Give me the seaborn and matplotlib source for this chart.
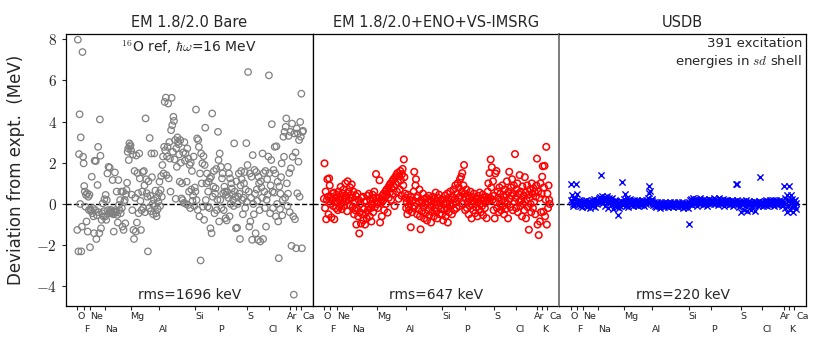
import numpy as np
import matplotlib
matplotlib.use("Agg")
import matplotlib.pyplot as plt
import matplotlib.transforms as mtransforms
import seaborn as sns
from matplotlib.ticker import FuncFormatter

# element groups along the x axis (number of levels per element)
elements = ["O", "F", "Ne", "Na", "Mg", "Al", "Si", "P", "S", "Cl", "Ar", "K", "Ca"]
n_levels = [11, 11, 26, 44, 49, 63, 39, 51, 37, 37, 9, 9, 5]

bare = [
    -1.26, 7.97, -2.3, 2.42, 4.35, 0.0, 3.23, -2.3, -1.1, 7.37, 2.29,  # O
    1.97, 0.87, 0.6, -0.13, 0.44, -0.85, 0.52, -1.34, 0.35, -0.29, 0.45,  # F
    -2.1, -0.26, -0.34, 1.32, -0.45, -0.2, -0.6, -1.42, 2.1, -0.3, 2.08, -1.7, -0.55,
    0.92, 2.77, -0.4, -1.42, 4.1, 2.34, -1.18, -0.77, -0.45, 0.03, -0.6, -0.35, 0.23,  # Ne
    -0.61, 0.44, -0.77, 0.19, 1.48, -0.3, 1.8, -0.45, 1.76, -0.35, -0.29, -0.4, -0.45,
    1.16, -0.5, -1.34, -0.37, 1.53, -0.3, -0.42, 0.6, -0.53, -0.9, 1.16, -0.05, -0.3,
    0.19, -0.45, 0.6, -0.2, -1.1, 0.6, -1.26, 0.1, 0.19, -0.94, 0.47, 0.68, 1.03,
    2.53, 2.69, 2.13, 2.94, 2.77,  # Na
    2.85, 2.6, 0.45, -0.3, 2.4, -1.26, -1.7, 1.6, 0.3, -1.34, 2.35, -0.9, 1.5, 0.52,
    -0.45, 2.45, 1.24, 0.15, -1.26, -0.3, 0.6, 1.55, -0.2, 1.6, 0.9, -0.4, 4.15, 1.2,
    0.52, 0.35, -2.3, 1.1, -0.2, 3.2, 0.4, -0.35, 2.45, 1.3, 0.0, -0.5, 0.2, 2.45,
    -0.1, 0.65, -0.45, -0.6, 0.3, -0.25, 0.1,  # Mg
    0.52, 1.08, -0.1, 0.68, 1.35, 0.35, 1.89, 2.3, 1.48, 2.77, 4.95, 2.6, 5.16, 1.4,
    2.3, 2.77, 4.87, 1.24, 3.0, 2.2, 0.6, 3.58, 5.15, 3.82, 2.53, 4.23, 4.03, 2.16,
    3.1, 0.25, 2.7, 1.8, 3.23, 3.02, 2.9, 2.4, 1.08, 3.1, 2.0, 0.27, 1.0, 0.19, 2.5,
    0.05, 3.0, 2.1, 2.45, 0.0, 1.08, 2.69, -0.05, 2.2, 0.6, 1.9, -0.2, 2.0, 0.7, 1.6,
    0.15, 0.4, 2.3, -0.1, 0.8,  # Al
    0.6, 4.58, 0.19, 3.18, -0.29, 3.1, 2.77, -0.6, 1.48, -2.74, 2.45, 1.0, 1.97,
    -0.13, 2.32, -0.77, 1.89, 3.7, 0.19, 1.0, 1.48, -0.13, 0.6, 1.08, -0.2, 1.24,
    -1.18, 1.32, -1.42, 4.39, 0.35, 0.84, 1.6, -0.45, 0.5, 0.76, 1.7, -0.3, 0.2,  # Si
    3.5, 2.13, -0.85, 2.45, 0.2, 1.8, -0.2, 1.24, 1.48, 0.52, -0.3, 0.84, 0.6, -0.69,
    0.44, -0.8, 0.6, 1.8, 0.3, 1.48, -0.6, 1.24, 0.0, 1.0, 0.75, 0.45, 0.2, -0.1,
    2.94, 0.6, 0.35, -1.18, 1.1, -1.15, 0.0, 0.35, 1.48, 0.5, -1.7, 0.9, 1.6, 1.2,
    0.2, -0.5, 0.3, 1.0, 1.55, -0.2, 0.7, 2.95, 0.1,  # P
    1.89, 6.4, 0.6, -1.1, 1.48, -0.85, 0.3, 1.32, -1.74, 2.37, 0.0, -0.5, 1.65, 0.5,
    -1.42, 1.55, 0.7, 0.15, -1.74, 1.32, 1.0, -0.3, -1.82, 1.1, 0.8, 0.3, 2.45, -1.7,
    1.5, 0.6, -0.2, 1.6, -1.1, 0.2, 1.2, 0.45, 2.3,  # S
    6.24, 1.5, -0.45, 0.9, 2.13, 3.87, 0.6, -0.2, 1.65, 0.55, 2.77, 1.48, -0.6, 2.8,
    0.0, 1.08, -0.85, -2.63, 0.85, -0.25, 0.5, 1.3, 1.97, -0.55, 0.2, 3.26, 2.29, 3.5,
    0.3, 3.74, 4.15, 1.0, -0.1, 0.5, 3.3, 1.5, -0.4,  # Cl
    3.5, 1.73, -2.03, 3.9, 2.29, -0.6, -4.4, 3.42, -0.74,  # Ar
    2.5, -2.15, 3.66, 0.52, 3.42, 2.05, 3.1, 0.35, 3.98,  # K
    3.26, 5.35, -2.15, 3.5, 3.55,  # Ca
]

imsrg = [
    0.25, 1.97, -0.2, 0.6, -0.74, 0.2, 1.2, 0.35, -0.5, 1.24, 0.9,  # O
    0.0, 0.35, -0.65, 0.2, 0.5, -0.1, 0.55, -0.74, 0.1, 0.3, -0.2,  # F
    0.45, 0.1, -0.3, 0.6, 0.2, -0.15, 0.35, 0.83, 0.0, -0.25, 0.5, 0.25, 0.7, -0.1,
    0.3, 1.0, 0.4, 0.15, -0.35, 1.1, 0.6, 0.2, -0.05, 0.8, 0.3, 0.45,  # Ne
    0.95, 0.3, -0.13, 0.6, -0.5, 0.1, -0.3, 0.4, -1.0, -0.2, 0.5, -0.6, 0.2, -1.43,
    -0.4, 0.0, -0.95, 0.3, -0.5, 0.35, -0.8, -0.25, 0.1, -1.0, -0.45, 0.15, -0.7, 0.4,
    -0.3, -0.1, 0.5, -0.6, 0.2, -0.2, -0.85, 0.0, 0.45, -0.4, 0.25, 0.6, -0.15, 0.3,
    1.45, 0.1,  # Na
    0.0, -0.2, 0.1, 0.3, 1.15, -0.9, 0.05, 0.2, -0.6, 0.4, 0.15, 0.5, -0.3, 0.35, 0.6,
    0.0, 0.7, 0.45, -0.42, 0.8, 0.3, 0.9, 0.55, 1.0, 0.2, 0.75, 1.1, 0.5, 1.2, 0.85,
    -0.1, 1.3, 0.95, 1.4, 0.6, 1.5, 1.05, 0.25, 1.35, 0.7, 1.6, 1.15, 0.4, 1.45, 1.7,
    0.9, 2.16, 1.3, 0.5,  # Mg
    0.3, -0.2, 0.1, -0.5, 0.45, -0.1, -0.3, 0.2, 0.0, -1.13, 0.35, -0.4, 0.15, -0.2,
    0.6, 1.56, -0.1, 0.9, 1.2, 0.3, -0.5, 0.4, -0.25, 0.1, 0.7, -0.6, -1.23, 0.2,
    -0.35, 0.05, 0.5, -0.15, -0.7, 0.25, -0.45, 0.0, 0.3, -0.8, 0.1, -0.3, 0.4, -0.55,
    0.2, -0.1, -0.9, 0.15, -0.4, 0.35, 0.0, -0.6, 0.25, -0.2, 0.55, -0.35, 0.1, -0.7,
    0.3, -0.1, 0.45, -0.5, 0.05, 0.2, -0.25,  # Al
    -0.5, 0.2, -0.8, 0.0, -0.3, 0.4, -0.6, 0.1, -0.2, 0.5, -0.9, 0.3, -0.4, 0.0, 0.6,
    -0.1, 0.2, -0.5, 0.35, 0.0, 0.7, -0.3, 0.25, 0.9, 0.1, -0.2, 0.5, 1.0, 0.3, 0.8,
    -0.1, 1.2, 0.4, 1.32, 0.6, 1.5, 0.0, 0.9, 1.89,  # Si
    0.5, -0.3, 0.3, 0.7, -0.2, 0.1, 0.4, -0.5, 0.25, -0.1, 0.6, 0.0, -0.7, 0.35, 0.15,
    -0.3, 0.5, 0.05, -0.45, 0.3, -0.15, 0.2, -0.6, 0.4, 0.1, -0.25, 0.55, 0.0, -0.4,
    0.25, -0.1, 0.45, -0.55, 0.15, 0.3, -0.2, 0.05, 0.35, -0.69, 0.2, 0.6, 1.0, 0.15,
    1.5, 0.3, 2.16, 0.8, 1.78, 0.2, 1.1, -0.3,  # P
    0.4, -0.7, 1.48, 0.1, 1.6, -0.2, 0.6, 0.3, -0.4, 0.8, 0.0, 0.5, -0.3, 0.2, 0.9,
    -0.1, 0.35, -0.5, 0.7, 0.15, -0.25, 0.45, 1.1, 0.0, -0.7, 0.6, 1.56, 0.25, -0.15,
    0.8, 0.4, 1.2, -0.3, 0.5, 0.9, 0.1, 2.42,  # S
    0.3, -0.2, 0.7, 1.0, -0.4, 0.5, 0.1, 1.4, -0.1, 0.6, 0.2, -0.6, 0.85, 0.0, 0.4,
    -0.3, 1.3, 0.55, -0.7, 0.2, 0.9, -0.15, 0.45, -1.25, 0.3, 0.7, 0.0, -0.4, 1.0,
    0.5, -0.2, 0.75, 0.1, 0.6, -0.5, 0.35, 0.9,  # Cl
    2.2, -1.0, 0.6, -1.51, 0.3, -0.85, 1.0, -0.4, 0.5,  # Ar
    1.32, 1.83, -0.37, 0.8, 1.85, -0.6, 0.2, 2.77, -1.0,  # K
    0.5, -0.2, 0.9, 0.2, 0.0,  # Ca
]

usdb = [
    0.2, 0.95, 0.44, 0.1, 0.0, -0.1, 0.25, 0.3, 0.05, 0.95, 0.15,  # O
    0.47, 0.1, -0.05, 0.2, 0.0, 0.15, -0.1, 0.1, 0.05, -0.15, 0.0,  # F
    0.1, -0.05, 0.15, 0.0, -0.1, 0.2, 0.05, -0.15, 0.1, 0.0, 0.15, -0.2, 0.05, 0.1,
    -0.05, 0.2, 0.0, -0.1, 0.1, 0.25, 0.05, -0.15, 0.15, 0.0, 0.2, 0.1,  # Ne
    0.2, 0.3, 0.1, 0.35, 1.4, 0.15, 0.4, 0.25, 0.05, 0.3, 0.2, -0.1, 0.35, 0.15, 0.25,
    0.4, 0.1, -0.2, 0.3, 0.2, 0.05, 0.25, -0.05, 0.15, 0.3, 0.0, -0.25, 0.1, 0.2, -0.1,
    0.05, 0.15, -0.15, 0.0, -0.53, 0.1, -0.2, 0.05, -0.1, 0.15, 1.05, 0.0, -0.05, 0.1,  # Na
    0.1, 0.25, 0.47, -0.1, 0.15, 0.3, 0.0, 0.2, -0.15, 0.1, 0.05, 0.25, -0.05, 0.15,
    0.0, 0.1, -0.1, 0.2, 0.05, 0.15, 0.0, -0.05, 0.1, 0.2, 0.05, -0.1, 0.15, 0.0, 0.1,
    0.05, -0.05, 0.2, 0.1, 0.0, 0.15, -0.1, 0.05, 0.1, 0.2, 0.0, 0.15, 0.05, 0.3, 0.89,
    0.52, 0.65, 0.1, 0.2, 0.25,  # Mg
    0.15, 0.05, -0.05, 0.1, 0.0, -0.1, 0.05, -0.15, 0.0, 0.1, -0.05, -0.1, 0.05, 0.0,
    -0.2, 0.1, -0.05, 0.0, -0.1, 0.05, -0.15, 0.0, 0.1, -0.05, -0.1, 0.05, 0.0, -0.15,
    0.05, -0.05, 0.0, 0.1, -0.1, -0.05, 0.05, 0.0, -0.15, 0.1, -0.05, 0.0, 0.05, -0.1,
    0.0, -0.05, 0.1, -0.15, 0.0, 0.05, -0.1, -0.05, 0.0, 0.1, -0.1, 0.05, -0.2, 0.0,
    -0.05, -0.15, 0.05, -0.1, -0.05, 0.0, -0.2,  # Al
    -0.97, 0.1, 0.2, 0.0, 0.25, 0.1, -0.05, 0.15, 0.3, 0.05, 0.2, 0.0, 0.1, 0.25, -0.1,
    0.15, 0.05, 0.2, 0.1, 0.3, 0.0, 0.15, 0.05, 0.2, -0.05, 0.1, 0.25, 0.0, 0.15, 0.1,
    0.2, 0.05, -0.1, 0.15, 0.1, 0.25, 0.0, 0.1, 0.2,  # Si
    0.15, 0.05, 0.2, 0.1, 0.3, 0.0, 0.15, 0.25, 0.05, 0.1, 0.2, -0.05, 0.15, 0.3, 0.05,
    0.1, 0.2, 0.0, 0.15, 0.1, 0.25, 0.05, -0.1, 0.15, 0.2, 0.0, 0.1, 0.05, 0.2, 0.15,
    -0.05, 0.1, 0.0, 0.15, 0.05, 0.2, 0.1, -0.1, 0.05, 0.15, 0.0, 0.1, 0.95, 0.05, 0.95,
    0.2, 0.0, 0.1, -0.15, 0.05, 0.15,  # P
    0.1, -0.37, 0.05, 0.15, 0.0, -0.3, 0.1, 0.05, -0.1, 0.2, 0.0, -0.35, 0.1, 0.05,
    -0.05, 0.15, 0.0, -0.3, 0.1, 0.05, -0.1, 0.0, 0.15, -0.05, 0.1, -0.35, 0.05, 0.0,
    0.1, -0.1, 0.05, 0.15, 0.0, -0.05, 1.32, 0.1, 0.0,  # S
    0.05, -0.1, 0.1, 0.0, 0.15, -0.05, 0.1, 0.2, 0.05, -0.1, 0.15, 0.0, 0.1, 0.2, -0.05,
    0.05, 0.15, 0.1, 0.0, 0.2, 0.1, -0.1, 0.15, 0.05, 0.2, 0.0, 0.1, -0.05, 0.15, 0.1,
    0.05, 0.2, 0.0, 0.1, 0.15, -0.1, 0.05,  # Cl
    0.89, 0.1, -0.2, 0.3, 0.0, -0.37, 0.44, 0.15, -0.1,  # Ar
    0.2, 0.89, -0.3, 0.1, 0.44, -0.15, 0.25, 0.0, -0.4,  # K
    0.15, -0.1, 0.2, 0.05, -0.25,  # Ca
]

titles = ["EM 1.8/2.0 Bare", "EM 1.8/2.0+ENO+VS-IMSRG", "USDB"]
rms_kev = [1696, 647, 220]

sns.set_style("ticks")
plt.rcParams["font.family"] = ["DejaVu Sans"]
plt.rcParams["mathtext.fontset"] = "cm"

starts = np.concatenate([[0], np.cumsum(n_levels)[:-1]])

fig, axes = plt.subplots(1, 3, figsize=(8.3, 3.46), dpi=100, sharey=True)
fig.subplots_adjust(left=0.0795, right=0.971, top=0.902, bottom=0.1156, wspace=0)

panels = [
    (bare, "o", "gray", 22, 0.9),
    (imsrg, "o", "red", 22, 1.1),
    (usdb, "x", "blue", 20, 1.0),
]

# small horizontal nudges so "Ar" and "Ca" do not touch
nudge = {"Ar": -2.5, "Ca": 1.5}

for k, (ax, (vals, mk, col, size, lw)) in enumerate(zip(axes, panels)):
    x = np.arange(len(vals))
    sns.scatterplot(x=x, y=vals, ax=ax, marker=mk, s=size, legend=False, zorder=3)
    pts = ax.collections[-1]
    if mk == "o":
        pts.set_facecolor("none")
        pts.set_edgecolor(col)
    else:
        pts.set_color(col)
    pts.set_linewidth(lw)

    ax.axhline(0, color="k", ls="--", lw=1, zorder=2)
    ax.set_xlim(-19.5, 406.5)
    ax.set_ylim(-4.95, 8.25)
    ax.set_title(titles[k], fontsize=10.5, pad=5)
    ax.text(0.5, 0.015, f"rms={rms_kev[k]} keV", transform=ax.transAxes,
            ha="center", va="bottom", fontsize=10)

    # two staggered rows of element labels: upper row on major ticks, lower on minor
    ax.set_xticks(starts[0::2])
    ax.set_xticklabels(elements[0::2], ha="left", fontsize=6.8)
    ax.set_xticks(starts[1::2], minor=True)
    ax.set_xticklabels(elements[1::2], minor=True, ha="left", fontsize=6.8)
    ax.tick_params(axis="x", which="major", direction="out", length=3, width=0.8, pad=1.5)
    ax.tick_params(axis="x", which="minor", direction="out", length=3, width=0.8, pad=10.5)
    for lab in ax.get_xticklabels() + ax.get_xticklabels(minor=True):
        dx = nudge.get(lab.get_text(), 0)
        if dx:
            off = mtransforms.ScaledTranslation(dx / 72, 0, fig.dpi_scale_trans)
            lab.set_transform(lab.get_transform() + off)
    for sp in ax.spines.values():
        sp.set_color("k")
        sp.set_linewidth(0.9)
    if k > 0:
        ax.tick_params(axis="y", left=False)

axes[0].set_yticks([-4, -2, 0, 2, 4, 6, 8])
axes[0].yaxis.set_major_formatter(FuncFormatter(lambda v, p: f"${v:g}$"))
axes[0].tick_params(axis="y", direction="out", length=3, labelsize=11)
axes[0].set_ylabel("Deviation from expt.  (MeV)", fontsize=12, labelpad=8)
axes[2].spines["left"].set_color("0.45")
axes[2].spines["left"].set_linewidth(1.3)

axes[0].text(0.5, 0.952, r"$^{16}$O ref, $\hbar\omega$=16 MeV", transform=axes[0].transAxes,
             ha="center", va="center", fontsize=10)
axes[2].text(0.984, 0.99, "391 excitation\nenergies in $sd$ shell", transform=axes[2].transAxes,
             ha="right", va="top", fontsize=9.5, linespacing=1.25)

fig.savefig("out.png", dpi=100)
